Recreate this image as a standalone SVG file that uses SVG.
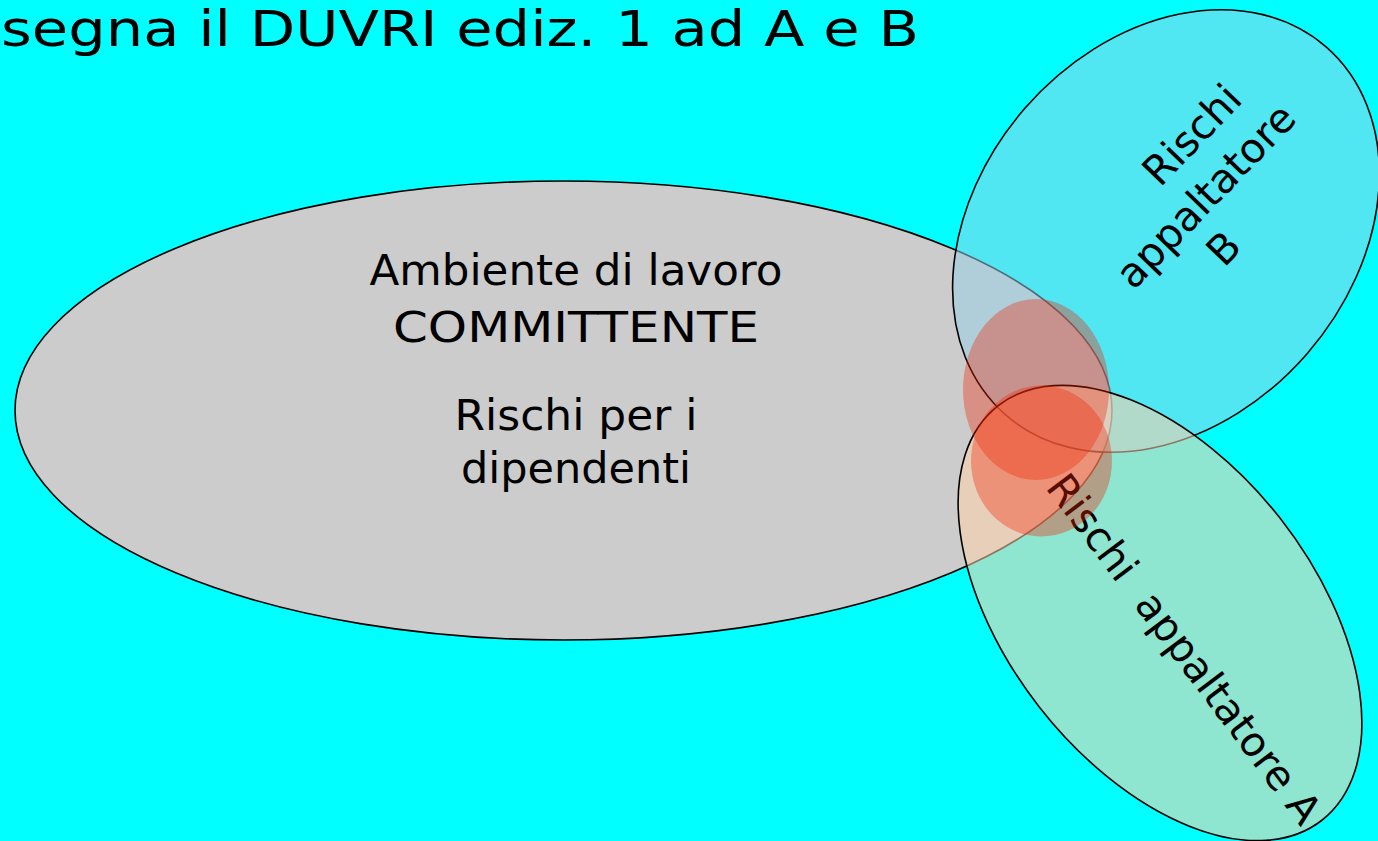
<svg xmlns="http://www.w3.org/2000/svg" width="1378" height="841" viewBox="0 0 1378 841">
<style>
text{font-family:"DejaVu Sans","Liberation Sans",sans-serif;fill:#000}
.main{font-size:42px;text-anchor:middle}
.side{font-size:41px;text-anchor:middle}
.ell{stroke:#000;stroke-width:1.6}
.blob{fill:#F02806;fill-opacity:0.36;stroke:none}
</style>
<rect x="0" y="0" width="1378" height="841" fill="#00FFFF"/>
<text id="title" x="1" y="46" font-size="50" textLength="918" lengthAdjust="spacingAndGlyphs">segna il DUVRI ediz. 1 ad A e B</text>
<g id="committente">
<ellipse class="ell" cx="563.5" cy="410.5" rx="548.5" ry="229.5" fill="#CCCCCC"/>
<text class="main" x="576" y="285" textLength="413" lengthAdjust="spacingAndGlyphs">Ambiente di lavoro</text>
<text class="main" x="576" y="342" textLength="366" lengthAdjust="spacingAndGlyphs">COMMITTENTE</text>
<text class="main" x="576" y="430" textLength="243" lengthAdjust="spacingAndGlyphs">Rischi per i</text>
<text class="main" x="576" y="483" textLength="230" lengthAdjust="spacingAndGlyphs">dipendenti</text>
</g>
<g id="appaltatoreB">
<ellipse class="ell" cx="1166" cy="231" rx="244" ry="187" transform="rotate(-49 1166 231)" fill="#97D0E6" fill-opacity="0.53"/>
<text class="side" transform="translate(1192 135) rotate(-46)" y="14">Rischi</text>
<text class="side" transform="translate(1208 198) rotate(-46)" y="11">appaltatore</text>
<text class="side" transform="translate(1223 248) rotate(-46)" y="15">B</text>
</g>
<g id="appaltatoreA">
<ellipse class="ell" cx="1160" cy="613" rx="263" ry="153" transform="rotate(52 1160 613)" fill="#FDD1AB" fill-opacity="0.56"/>
<text class="side" font-size="40" xml:space="preserve" transform="translate(1184 649) rotate(53)" y="14">Rischi  appaltatore A</text>
</g>
<g id="interferenze">
<ellipse class="blob" cx="1036" cy="389.5" rx="73" ry="90.5"/>
<ellipse class="blob" cx="1041.5" cy="461" rx="70.5" ry="75.5"/>
</g>
<g id="connectors"></g>
</svg>
